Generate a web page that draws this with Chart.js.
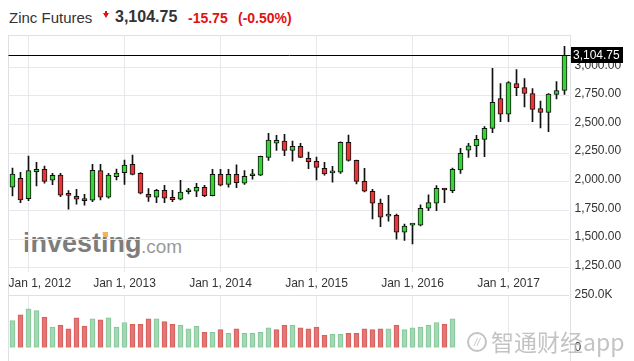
<!DOCTYPE html>
<html>
<head>
<meta charset="utf-8">
<script src="https://cdn.jsdelivr.net/npm/chart.js@4.4.1/dist/chart.umd.min.js"></script>
<style>
  html, body { margin: 0; padding: 0; background: #fff; }
  body { width: 634px; height: 361px; position: relative; overflow: hidden;
         font-family: 'Liberation Sans', Arial, sans-serif; }
  .t { position: absolute; line-height: 1; white-space: nowrap; }
  #frame { position: absolute; left: 8px; top: 35px; width: 563px; height: 326px;
           border: 1px solid #dde1e6; border-bottom: none; box-sizing: border-box; }
  canvas { position: absolute; left: 0; z-index: 1; }
  #price { top: 0; }
  #vol { top: 280px; }
  .arrow { position: absolute; left: 103px; top: 13px; width: 0; height: 0;
           border-left: 3px solid transparent; border-right: 3px solid transparent;
           border-top: 5px solid #e21010; }
  .stem { position: absolute; left: 105px; top: 11px; width: 2px; height: 2px; background: #e21010; }
  .wm { position: absolute; z-index: 2; color: rgba(185,185,185,0.85); white-space: nowrap; }
</style>
</head>
<body>
<div class="t" style="left:9px;top:10px;font-size:15px;color:#333;">Zinc Futures</div>
<div class="stem"></div><div class="arrow"></div>
<div class="t" style="left:115px;top:9px;font-size:16px;font-weight:bold;color:#333;">3,104.75</div>
<div class="t" style="left:188px;top:11px;font-size:14px;font-weight:bold;color:#e21010;">-15.75</div>
<div class="t" style="left:238px;top:11px;font-size:14px;font-weight:bold;color:#e21010;">(-0.50%)</div>

<div id="frame"></div>
<div class="t" style="left:23px;top:230px;font-size:27px;font-weight:bold;color:#7d7d7d;">investing</div>
<div style="position:absolute;left:103px;top:232px;width:5px;height:5px;background:#f3b35a;"></div>
<div class="t" style="left:141px;top:237px;font-size:19px;color:#9a9a9a;">.com</div>

<canvas id="price" width="634" height="296"></canvas>
<canvas id="vol" width="634" height="81"></canvas>

<div class="wm" style="left:467px;top:332px;width:16px;height:16px;border:2px solid rgba(185,185,185,0.85);border-radius:50%;font-size:11px;line-height:16px;text-align:center;font-style:italic;">//</div>
<div class="wm" style="left:491px;top:330px;font-size:23px;line-height:1;font-family:'Noto Sans CJK SC',sans-serif;">智通财经app</div>

<script>
// 月份（类别）
const months = [
  'Nov 2011', 'Dec 2011',
  'Jan 2012', 'Feb 2012', 'Mar 2012', 'Apr 2012', 'May 2012', 'Jun 2012', 'Jul 2012', 'Aug 2012', 'Sep 2012', 'Oct 2012', 'Nov 2012', 'Dec 2012',
  'Jan 2013', 'Feb 2013', 'Mar 2013', 'Apr 2013', 'May 2013', 'Jun 2013', 'Jul 2013', 'Aug 2013', 'Sep 2013', 'Oct 2013', 'Nov 2013', 'Dec 2013',
  'Jan 2014', 'Feb 2014', 'Mar 2014', 'Apr 2014', 'May 2014', 'Jun 2014', 'Jul 2014', 'Aug 2014', 'Sep 2014', 'Oct 2014', 'Nov 2014', 'Dec 2014',
  'Jan 2015', 'Feb 2015', 'Mar 2015', 'Apr 2015', 'May 2015', 'Jun 2015', 'Jul 2015', 'Aug 2015', 'Sep 2015', 'Oct 2015', 'Nov 2015', 'Dec 2015',
  'Jan 2016', 'Feb 2016', 'Mar 2016', 'Apr 2016', 'May 2016', 'Jun 2016', 'Jul 2016', 'Aug 2016', 'Sep 2016', 'Oct 2016', 'Nov 2016', 'Dec 2016',
  'Jan 2017', 'Feb 2017', 'Mar 2017', 'Apr 2017', 'May 2017', 'Jun 2017', 'Jul 2017', 'Aug 2017'
];

// 月K：开 / 高 / 低 / 收
const openP = [
  1952, 2031,
  1853, 2088, 2109, 2013, 2059, 1886, 1874, 1837, 1839, 2097, 1865, 2045,
  2079, 2152, 2074, 1891, 1865, 1926, 1865, 1848, 1913, 1917, 1952, 1879,
  2065, 1978, 2065, 1987, 2053, 2057, 2213, 2338, 2355, 2274, 2309, 2205,
  2179, 2118, 2078, 2083, 2344, 2187, 2004, 1917, 1813, 1700, 1708, 1560,
  1621, 1621, 1769, 1813, 1930, 1923, 2103, 2277, 2314, 2370, 2466, 2727,
  2591, 2858, 2823, 2771, 2640, 2605, 2762, 2797
];
const highP = [
  2120, 2083,
  2225, 2170, 2138, 2074, 2074, 1923, 1935, 1891, 2153, 2153, 2074, 2112,
  2190, 2234, 2080, 1940, 1935, 1970, 1926, 2013, 1943, 1987, 1970, 2109,
  2109, 2109, 2149, 2097, 2109, 2225, 2423, 2405, 2414, 2355, 2335, 2260,
  2216, 2170, 2135, 2350, 2408, 2190, 2118, 1935, 1848, 1882, 1717, 1630,
  1630, 1798, 1885, 1966, 1943, 2120, 2292, 2335, 2405, 2483, 2991, 2858,
  2876, 2980, 2902, 2814, 2704, 2771, 2876, 3183
];
const lowP = [
  1876, 1818,
  1835, 1963, 1987, 1975, 1870, 1761, 1804, 1795, 1827, 1842, 1856, 2016,
  1978, 2059, 1895, 1828, 1818, 1818, 1827, 1842, 1894, 1870, 1870, 1876,
  1963, 1952, 1949, 1978, 2022, 2053, 2187, 2274, 2227, 2179, 2210, 2114,
  2016, 2057, 1996, 2074, 2179, 1981, 1912, 1676, 1609, 1656, 1499, 1487,
  1458, 1615, 1748, 1748, 1818, 1905, 2074, 2213, 2219, 2219, 2428, 2524,
  2524, 2753, 2654, 2524, 2471, 2437, 2724, 2762
];
const closeP = [
  2068, 1842,
  2097, 2109, 2004, 2057, 1882, 1881, 1848, 1835, 2100, 1865, 2059, 2077,
  2146, 2065, 1900, 1865, 1926, 1856, 1844, 1909, 1915, 1952, 1879, 2065,
  1970, 2065, 1992, 2048, 2055, 2222, 2365, 2362, 2274, 2309, 2213, 2175,
  2126, 2068, 2080, 2344, 2187, 2004, 1917, 1813, 1691, 1717, 1560, 1613,
  1623, 1769, 1818, 1943, 1928, 2109, 2248, 2314, 2370, 2466, 2693, 2591,
  2867, 2823, 2771, 2632, 2605, 2765, 2797, 3104.75
];

// 成交量（只到 2016 年 6 月）
const volume = [
  128600, 155700,
  184300, 175700, 145700, 98600, 107000, 90000, 141400, 102900, 137000, 132900, 141400, 98600,
  120000, 111400, 111400, 137000, 137000, 124300, 111400, 107000, 90000, 102900, 72900, 72900,
  85700, 68600, 90000, 68600, 68600, 72900, 94300, 85700, 107000, 107000, 94300, 90000,
  98600, 60000, 64300, 64300, 68600, 68600, 90000, 85700, 90000, 90000, 107000, 85700,
  94300, 98600, 107000, 120000, 111400, 137000
];

const priceTicks = [1250, 1500, 1750, 2000, 2250, 2500, 2750, 3000];
const volumeTicks = [0, 250000];
const xTickMonths = ['Jan 2012', 'Jan 2013', 'Jan 2014', 'Jan 2015', 'Jan 2016', 'Jan 2017'];
const xTickLabels = ['Jan 1, 2012', 'Jan 1, 2013', 'Jan 1, 2014', 'Jan 1, 2015', 'Jan 1, 2016', 'Jan 1, 2017'];
const lastPrice = 3104.75;

const FONT = '"Liberation Sans", Arial, sans-serif';
const UP = '#34d534';
const DOWN = '#ec3636';
const GRID = '#e6e8ec';
const NONE = 'rgba(0,0,0,0)';

// 只有一月份画竖向网格线
const janGrid = c => (c.tick && String(months[c.tick.value]).startsWith('Jan')) ? GRID : NONE;

const bodyColors = months.map((_, i) => closeP[i] >= openP[i] ? UP : DOWN);
// 成交量颜色：收盘相对上月收盘
const volUp = volume.map((_, i) => i === 0 ? closeP[0] >= openP[0] : closeP[i] >= closeP[i - 1]);

// 最新价横线 + 右侧黑色价格框
const LastPricePlugin = {
  id: 'lastPrice',
  afterDatasetsDraw(chart) {
    const { ctx, chartArea, scales } = chart;
    const y = Math.round(scales.y.getPixelForValue(lastPrice)) + 0.5;
    ctx.save();
    ctx.strokeStyle = '#000';
    ctx.lineWidth = 1;
    ctx.beginPath();
    ctx.moveTo(chartArea.left, y);
    ctx.lineTo(chartArea.right + 2, y);
    ctx.stroke();
    ctx.restore();
  },
  afterDraw(chart) {
    const { ctx, chartArea, scales } = chart;
    const y = Math.round(scales.y.getPixelForValue(lastPrice));
    ctx.save();
    ctx.fillStyle = '#000';
    ctx.fillRect(Math.round(chartArea.right) + 2, y - 8, 52, 16);
    ctx.fillStyle = '#fff';
    ctx.font = '12px ' + FONT;
    ctx.textBaseline = 'middle';
    ctx.fillText(lastPrice.toLocaleString('en-US', { minimumFractionDigits: 2 }), Math.round(chartArea.right) + 4, y + 1);
    ctx.restore();
  }
};

// x 轴日期标签：第一个贴住左边不越界
const XLabelsPlugin = {
  id: 'xLabels',
  afterDraw(chart) {
    const { ctx, chartArea, scales } = chart;
    ctx.save();
    ctx.font = '12px ' + FONT;
    ctx.fillStyle = '#333';
    ctx.textBaseline = 'middle';
    ctx.textAlign = 'left';
    xTickMonths.forEach((m, i) => {
      const px = scales.x.getPixelForValue(months.indexOf(m));
      const w = ctx.measureText(xTickLabels[i]).width;
      const left = Math.max(px - w / 2, chartArea.left);
      ctx.fillText(xTickLabels[i], left, chartArea.bottom + 12);
    });
    ctx.restore();
  }
};

const yTickFont = { family: FONT, size: 12 };

new Chart(document.getElementById('price'), {
  type: 'bar',
  data: {
    labels: months,
    datasets: [
      {
        label: 'body',
        data: months.map((_, i) => [openP[i], closeP[i]]),
        backgroundColor: bodyColors,
        borderColor: '#111',
        borderWidth: 1,
        borderSkipped: false,
        barThickness: 5,
        minBarLength: 2,
        grouped: false,
        order: 0
      },
      {
        label: 'wick',
        data: months.map((_, i) => [lowP[i], highP[i]]),
        backgroundColor: '#111',
        borderWidth: 0,
        barThickness: 1,
        grouped: false,
        order: 1
      }
    ]
  },
  options: {
    responsive: false,
    animation: false,
    layout: { padding: { left: 8.5, top: 35, right: 0, bottom: 0 } },
    plugins: { legend: { display: false }, tooltip: { enabled: false } },
    scales: {
      x: {
        offset: true,
        grid: { offset: false, color: janGrid, drawTicks: false },
        border: { display: false },
        ticks: { display: false, autoSkip: false },
        afterFit: s => { s.height = 24; }
      },
      y: {
        position: 'right',
        min: 1212,
        max: 3282,
        grid: { color: GRID, drawTicks: false },
        border: { display: false },
        ticks: {
          font: yTickFont,
          color: '#333',
          padding: 6,
          labelOffset: -2,
          callback: v => v.toLocaleString('en-US', { minimumFractionDigits: 2, maximumFractionDigits: 2 })
        },
        afterBuildTicks: s => { s.ticks = priceTicks.map(v => ({ value: v })); },
        afterFit: s => { s.width = 65.5; }
      }
    }
  },
  plugins: [LastPricePlugin, XLabelsPlugin]
});

new Chart(document.getElementById('vol'), {
  type: 'bar',
  data: {
    labels: months,
    datasets: [{
      label: 'volume',
      data: volume,
      backgroundColor: volUp.map(u => u ? 'rgba(160,214,176,0.95)' : 'rgba(228,112,112,0.95)'),
      borderColor: volUp.map(u => u ? '#84c79a' : '#d65e5e'),
      borderWidth: 1,
      borderSkipped: false,
      barThickness: 5
    }]
  },
  options: {
    responsive: false,
    animation: false,
    layout: { padding: { left: 8.5, top: 15, right: 0, bottom: 7.7 } },
    plugins: { legend: { display: false }, tooltip: { enabled: false } },
    scales: {
      x: {
        offset: true,
        grid: { offset: false, color: janGrid, drawTicks: false },
        border: { display: false },
        ticks: { display: false, autoSkip: false },
        afterFit: s => { s.height = 0; }
      },
      y: {
        position: 'right',
        min: 0,
        max: 250000,
        grid: { color: c => (c.tick && c.tick.value === 250000) ? '#dde1e6' : NONE, drawTicks: false },
        border: { display: false },
        ticks: {
          font: yTickFont,
          color: '#333',
          padding: 6,
          callback: v => v === 0 ? '0' : (v / 1000).toFixed(1) + 'K'
        },
        afterBuildTicks: s => { s.ticks = volumeTicks.map(v => ({ value: v })); },
        afterFit: s => { s.width = 65.5; }
      }
    }
  }
});
</script>
</body>
</html>
